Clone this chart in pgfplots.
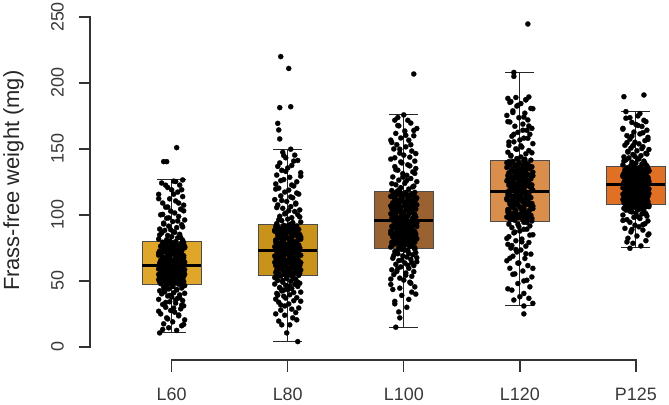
\documentclass[border=0pt]{standalone}
\usepackage{fontspec}
\setmainfont{Liberation Sans}
\usepackage{pgfplots}
\usepackage{pgfplotstable}
\pgfplotsset{compat=1.18}

\definecolor{axisgray}{HTML}{3C3C3C}
\definecolor{cLsixty}{HTML}{DFA62A}
\definecolor{cLeighty}{HTML}{C8921B}
\definecolor{cLhundred}{HTML}{9B6231}
\definecolor{cLtwenty}{HTML}{D98F4B}
\definecolor{cPtwentyfive}{HTML}{DF7024}

% jittered individual weights: j = horizontal jitter (bp), v = weight (mg)
\pgfplotstableread[row sep=\\]{
j v\\
-12 10.6\\ 5 12.5\\ -3 14.5\\ 10 16\\ -8 17.5\\ 1 19\\ 13 20.5\\ -5 22\\ 7 23.5\\
-11 25\\ 3 26.3\\ -1 27.6\\ 9 28.8\\ -6 30\\ 12 31.1\\ -9 32.2\\ 4 33.2\\ -2 34.2\\
11 35.1\\ -13 36\\ 6 36.9\\ 0 37.8\\ -4 38.6\\ 8 39.4\\ -10 40.2\\ 2 41\\ -7 41.8\\
-12 42.5\\ 5 43.2\\ -3 43.9\\ 10 44.6\\ -8 45.2\\ 1 45.8\\ 13 46.4\\ -5 47\\ 7 47.5\\
-11 47.9\\ 3 48.2\\ -1 48.5\\ 9 48.8\\ -6 49.1\\ 12 49.4\\ -9 49.7\\ 4 50.0\\ -2 50.3\\
11 50.6\\ -13 50.9\\ 6 51.2\\ 0 51.5\\ -4 51.8\\ 8 52.1\\ -10 52.4\\ 2 52.7\\ -7 53.0\\
-12 53.3\\ 5 53.6\\ -3 53.9\\ 10 54.2\\ -8 54.5\\ 1 54.8\\ 13 55.1\\ -5 55.4\\ 7 55.7\\
-11 56.0\\ 3 56.3\\ -1 56.6\\ 9 56.9\\ -6 57.2\\ 12 57.5\\ -9 57.8\\ 4 58.1\\ -2 58.4\\
11 58.7\\ -13 59.0\\ 6 59.3\\ 0 59.6\\ -4 59.9\\ 8 60.2\\ -10 60.5\\ 2 60.8\\ -7 61.1\\
-12 61.9\\ 5 62.3\\ -3 62.7\\ 10 63.1\\ -8 63.5\\ 1 63.9\\ 13 64.3\\ -5 64.7\\ 7 65.1\\
-11 65.5\\ 3 65.9\\ -1 66.3\\ 9 66.7\\ -6 67.1\\ 12 67.5\\ -9 67.9\\ 4 68.3\\ -2 68.7\\
11 69.1\\ -13 69.5\\ 6 69.9\\ 0 70.3\\ -4 70.7\\ 8 71.1\\ -10 71.5\\ 2 71.9\\ -7 72.3\\
-12 72.7\\ 5 73.1\\ -3 73.5\\ 10 73.9\\ -8 74.3\\ 1 74.7\\ 13 75.1\\ -5 75.5\\ 7 75.9\\
-11 76.3\\ 3 76.8\\ -1 77.3\\ 9 77.8\\ -6 78.3\\ 12 78.8\\ -9 79.3\\ 4 79.8\\ -2 80.1\\
11 80.8\\ -13 81.7\\ 6 82.6\\ 0 83.5\\ -4 84.4\\ 8 85.3\\ -10 86.3\\ 2 87.3\\ -7 88.3\\
-12 89.3\\ 5 90.4\\ -3 91.5\\ 10 92.6\\ -8 93.8\\ 1 95\\ 13 96.2\\ -5 97.5\\ 7 98.8\\
-11 100.1\\ 3 101.5\\ -1 102.9\\ 9 104.4\\ -6 105.9\\ 12 107.4\\ -9 109\\ 4 110.6\\ -2 112.2\\
11 113.9\\ -13 115.6\\ 6 117.3\\ 0 119\\ -4 120.8\\ 8 122.6\\ -10 124.2\\ 2 125.6\\ 11 126.5\\
-8 140.4\\ -5 140.4\\ 5 151\\
-9 13.2\\ 12 17.0\\ -4 21.2\\ 7 24.2\\ -13 27.0\\ 2 29.4\\ 10 31.6\\ -6 33.7\\ 4 35.5\\
8 37.3\\ -2 39.0\\ 13 40.6\\ -10 42.1\\ 5 43.5\\ -7 44.9\\ 1 46.0\\ 11 46.8\\ -4 47.3\\
-5 48.1\\ 9 48.6\\ -12 49.2\\ 3 49.7\\ -1 50.2\\ 11 50.7\\ -8 51.3\\ 6 51.8\\ -3 52.3\\
-9 52.8\\ 12 53.4\\ -4 53.9\\ 7 54.4\\ -13 54.9\\ 2 55.5\\ 10 56.0\\ -6 56.5\\ 4 57.0\\
8 57.6\\ -2 58.1\\ 13 58.6\\ -10 59.1\\ 5 59.7\\ -7 60.2\\ 1 60.7\\ 11 61.2\\ -4 61.4\\
-5 62.1\\ 9 62.8\\ -12 63.5\\ 3 64.2\\ -1 64.9\\ 11 65.6\\ -8 66.3\\ 6 67.0\\ -3 67.7\\
-9 68.4\\ 12 69.1\\ -4 69.8\\ 7 70.5\\ -13 71.2\\ 2 71.9\\ 10 72.6\\ -6 73.3\\ 4 74.0\\
8 74.7\\ -2 75.4\\ 13 76.1\\ -10 76.8\\ 5 77.5\\ -7 78.2\\ 1 78.9\\ 11 79.5\\ -4 80.0\\
-5 81.2\\ 9 82.9\\ -12 84.8\\ 3 86.8\\ -1 88.8\\ 11 90.9\\ -8 93.1\\ 6 95.4\\ -3 97.8\\
-9 100.4\\ 12 103.1\\ -4 106\\ 7 109\\ -13 112.3\\ 2 115.7\\ 10 119.1\\ -6 122.5\\ 4 125.3\\
}\dataLsixty

\pgfplotstableread[row sep=\\]{
j v\\
10 4.0\\ -1 10.6\\ -6 16.7\\ 2 16.7\\ -9 19.5\\ 5 22\\ -3 24\\ 8 26\\ -7 27.8\\
11 29.5\\ -3 31\\ 1 32.5\\ -9 33.8\\ 6 35\\ -12 36.2\\ 9 37.3\\ -4 38.4\\ 2 39.5\\
-11 40.5\\ 13 41.5\\ -6 42.4\\ 0 43.3\\ 4 44.2\\ -8 45\\ 10 45.8\\ -2 46.6\\ 7 47.4\\
12 48.2\\ -5 49\\ 3 49.7\\ -10 50.4\\ 8 51.1\\ -1 51.8\\ -13 52.5\\ 5 53.1\\ -7 53.7\\
11 54.2\\ -3 54.6\\ 1 55.0\\ -9 55.4\\ 6 55.9\\ -12 56.3\\ 9 56.7\\ -4 57.1\\ 2 57.5\\
-11 57.9\\ 13 58.3\\ -6 58.7\\ 0 59.1\\ 4 59.6\\ -8 60.0\\ 10 60.4\\ -2 60.8\\ 7 61.2\\
12 61.6\\ -5 62.0\\ 3 62.4\\ -10 62.8\\ 8 63.3\\ -1 63.7\\ -13 64.1\\ 5 64.5\\ -7 64.9\\
11 65.3\\ -3 65.7\\ 1 66.1\\ -9 66.5\\ 6 67.0\\ -12 67.4\\ 9 67.8\\ -4 68.2\\ 2 68.6\\
-11 69.0\\ 13 69.4\\ -6 69.8\\ 0 70.2\\ 4 70.7\\ -8 71.1\\ 10 71.5\\ -2 71.9\\ 7 72.6\\
12 73.3\\ -5 73.7\\ 3 74.2\\ -10 74.6\\ 8 75.0\\ -1 75.5\\ -13 75.9\\ 5 76.4\\ -7 76.8\\
11 77.2\\ -3 77.7\\ 1 78.1\\ -9 78.5\\ 6 79.0\\ -12 79.4\\ 9 79.9\\ -4 80.3\\ 2 80.7\\
-11 81.2\\ 13 81.6\\ -6 82.0\\ 0 82.5\\ 4 82.9\\ -8 83.4\\ 10 83.8\\ -2 84.2\\ 7 84.7\\
12 85.1\\ -5 85.5\\ 3 86.0\\ -10 86.4\\ 8 86.9\\ -1 87.3\\ -13 87.7\\ 5 88.2\\ -7 88.6\\
11 89.0\\ -3 89.5\\ 1 89.9\\ -9 90.4\\ 6 90.8\\ -12 91.2\\ 9 91.7\\ -4 92.1\\ 2 92.7\\
-11 93.5\\ 13 94.6\\ -6 95.7\\ 0 96.8\\ 4 97.9\\ -8 99\\ 10 100.2\\ -2 101.4\\ 7 102.6\\
12 103.8\\ -5 105\\ 3 106.3\\ -10 107.6\\ 8 108.9\\ -1 110.2\\ -13 111.6\\ 5 113\\ -7 114.4\\
11 115.8\\ -3 117.3\\ 1 118.8\\ -9 120.3\\ 6 121.9\\ -12 123.5\\ 9 125.1\\ -4 126.8\\ 2 128.5\\
-11 130.2\\ 13 132\\ -6 133.8\\ 0 135.6\\ 4 137.5\\ -8 139.4\\ 10 141.3\\ -2 143.3\\ 7 145.3\\
-5 147.5\\ 3 149.8\\
-8 157.6\\ -9 164.4\\ -10 169.4\\ -8 181.3\\ 3 182\\ 1 211\\ -7 220\\
9 20.5\\ -12 25\\ 4 28.6\\ -7 31.8\\ 13 34.6\\ -2 37\\ -10 39.2\\ 6 41.2\\ -4 43\\
-8 44.7\\ 2 46.2\\ -13 47.6\\ 10 49\\ -5 50.3\\ 7 51.5\\ -1 52.5\\ -11 53.3\\ 4 53.9\\
5 54.4\\ -9 55.1\\ 12 55.8\\ -3 56.5\\ 1 57.3\\ -11 58.0\\ 8 58.7\\ -6 59.4\\ 3 60.2\\
9 60.9\\ -12 61.6\\ 4 62.3\\ -7 63.1\\ 13 63.8\\ -2 64.5\\ -10 65.2\\ 6 66.0\\ -4 66.7\\
-8 67.4\\ 2 68.1\\ -13 68.9\\ 10 69.6\\ -5 70.3\\ 7 71.0\\ -1 71.8\\ -11 72.5\\ 4 72.9\\
5 73.5\\ -9 74.2\\ 12 75.0\\ -3 75.7\\ 1 76.5\\ -11 77.2\\ 8 78.0\\ -6 78.7\\ 3 79.5\\
9 80.2\\ -12 81.0\\ 4 81.7\\ -7 82.5\\ 13 83.2\\ -2 84.0\\ -10 84.7\\ 6 85.5\\ -4 86.2\\
-8 87.0\\ 2 87.7\\ -13 88.5\\ 10 89.2\\ -5 90.0\\ 7 90.7\\ -1 91.5\\ -11 92.2\\ 4 92.9\\
5 94.2\\ -9 96.3\\ 12 98.5\\ -3 100.8\\ 1 103.2\\ -11 105.6\\ 8 108.2\\ -6 110.9\\ 3 113.7\\
9 116.6\\ -12 119.6\\ 4 122.7\\ -7 126\\ 13 129.4\\ -2 133\\ -10 136.8\\ 6 140.8\\ -4 145\\
}\dataLeighty

\pgfplotstableread[row sep=\\]{
j v\\
-8 14.9\\ -4 22\\ -5 26.5\\ 3 30\\ -9 32.6\\ 5 36\\ -2 39\\ 8 41.5\\ -11 43.5\\
11 45.5\\ -13 47.3\\ 6 49\\ 0 50.6\\ -4 52.1\\ 8 53.5\\ -10 54.8\\ 2 56\\ -7 57.2\\
-12 58.4\\ 5 59.5\\ -3 60.6\\ 10 61.6\\ -8 62.6\\ 1 63.6\\ 13 64.5\\ -5 65.4\\ 7 66.3\\
-11 67.2\\ 3 68.1\\ -1 69\\ 9 69.8\\ -6 70.6\\ 12 71.4\\ -9 72.2\\ 4 73\\ -2 73.9\\
11 75.1\\ -13 75.6\\ 6 76.0\\ 0 76.5\\ -4 76.9\\ 8 77.4\\ -10 77.8\\ 2 78.3\\ -7 78.7\\
-12 79.2\\ 5 79.6\\ -3 80.1\\ 10 80.5\\ -8 81.0\\ 1 81.4\\ 13 81.9\\ -5 82.3\\ 7 82.8\\
-11 83.2\\ 3 83.7\\ -1 84.1\\ 9 84.6\\ -6 85.0\\ 12 85.5\\ -9 85.9\\ 4 86.4\\ -2 86.8\\
11 87.3\\ -13 87.7\\ 6 88.2\\ 0 88.6\\ -4 89.1\\ 8 89.5\\ -10 90.0\\ 2 90.4\\ -7 90.9\\
-12 91.3\\ 5 91.8\\ -3 92.2\\ 10 92.7\\ -8 93.1\\ 1 93.6\\ 13 94.0\\ -5 94.5\\ 7 95.0\\
-11 96.0\\ 3 96.5\\ -1 97.0\\ 9 97.5\\ -6 98.0\\ 12 98.4\\ -9 98.9\\ 4 99.4\\ -2 99.9\\
11 100.4\\ -13 100.9\\ 6 101.4\\ 0 101.9\\ -4 102.4\\ 8 102.8\\ -10 103.3\\ 2 103.8\\ -7 104.3\\
-12 104.8\\ 5 105.3\\ -3 105.8\\ 10 106.3\\ -8 106.8\\ 1 107.2\\ 13 107.7\\ -5 108.2\\ 7 108.7\\
-11 109.2\\ 3 109.7\\ -1 110.2\\ 9 110.7\\ -6 111.2\\ 12 111.6\\ -9 112.1\\ 4 112.6\\ -2 113.1\\
11 113.6\\ -13 114.1\\ 6 114.6\\ 0 115.1\\ -4 115.6\\ 8 116.0\\ -10 116.5\\ 2 117.0\\ -7 117.6\\
-12 118.5\\ 5 119.6\\ -3 120.7\\ 10 121.8\\ -8 122.9\\ 1 124\\ 13 125.2\\ -5 126.4\\ 7 127.6\\
-11 128.8\\ 3 130\\ -1 131.3\\ 9 132.6\\ -6 133.9\\ 12 135.2\\ -9 136.6\\ 4 138\\ -2 139.4\\
11 140.8\\ -13 142.3\\ 6 143.8\\ 0 145.3\\ -4 146.8\\ 8 148.4\\ -10 150\\ 2 151.6\\ -7 153.2\\
-12 154.9\\ 5 156.6\\ -3 158.3\\ 10 160\\ -8 161.8\\ 1 163.6\\ 13 165.5\\ -5 167.5\\ 7 169.6\\
-9 171.8\\ -6 173.8\\ 0 175.8\\
10 206.8\\
-9 34.5\\ 12 40\\ -4 44.5\\ 7 48.2\\ -13 51.4\\ 2 54.3\\ 10 57\\ -6 59.5\\ 4 61.8\\
8 63.9\\ -2 65.8\\ 13 67.6\\ -10 69.3\\ 5 70.8\\ -7 72.2\\ 1 73.3\\ 11 74.0\\ -4 74.4\\
-5 75.3\\ 9 76.1\\ -12 76.9\\ 3 77.7\\ -1 78.5\\ 11 79.3\\ -8 80.1\\ 6 80.9\\ -3 81.7\\
-9 82.5\\ 12 83.3\\ -4 84.1\\ 7 84.9\\ -13 85.7\\ 2 86.5\\ 10 87.3\\ -6 88.1\\ 4 88.9\\
8 89.7\\ -2 90.5\\ 13 91.3\\ -10 92.1\\ 5 92.9\\ -7 93.7\\ 1 94.5\\ 11 95.1\\ -4 95.3\\
-5 95.9\\ 9 96.7\\ -12 97.6\\ 3 98.4\\ -1 99.3\\ 11 100.1\\ -8 101.0\\ 6 101.8\\ -3 102.7\\
-9 103.5\\ 12 104.4\\ -4 105.2\\ 7 106.1\\ -13 106.9\\ 2 107.8\\ 10 108.6\\ -6 109.5\\ 4 110.3\\
8 111.2\\ -2 112.0\\ 13 112.9\\ -10 113.7\\ 5 114.6\\ -7 115.4\\ 1 116.3\\ 11 117.1\\ -4 117.8\\
-5 119\\ 9 121.3\\ -12 123.7\\ 3 126.2\\ -1 128.8\\ 11 131.5\\ -8 134.3\\ 6 137.2\\ -3 140.2\\
-9 143.3\\ 12 146.5\\ -4 149.8\\ 7 153.2\\ -13 156.7\\ 2 160.3\\ 10 164\\ -6 167.8\\ 4 171.7\\
}\dataLhundred

\pgfplotstableread[row sep=\\]{
j v\\
4 31\\ 13 33\\ -6 35.5\\ 0 38\\ 4 40.5\\ -8 43\\ 10 45.5\\ -2 48\\ 7 50.5\\
12 53\\ -5 55.3\\ 3 57.5\\ -10 59.6\\ 8 61.6\\ -1 63.5\\ -13 65.3\\ 5 67\\ -7 68.7\\
11 70.3\\ -3 71.9\\ 1 73.4\\ -9 74.9\\ 6 76.3\\ -12 77.7\\ 9 79.1\\ -4 80.4\\ 2 81.7\\
-11 83.5\\ 13 85\\ -6 86.4\\ 0 87.8\\ 4 89.1\\ -8 90.4\\ 10 91.7\\ -2 93\\ 7 94.3\\
12 95.4\\ -5 95.9\\ 3 96.4\\ -10 96.9\\ 8 97.4\\ -1 97.9\\ -13 98.4\\ 5 98.9\\ -7 99.4\\
11 99.8\\ -3 100.3\\ 1 100.8\\ -9 101.3\\ 6 101.8\\ -12 102.3\\ 9 102.8\\ -4 103.3\\ 2 103.8\\
-11 104.3\\ 13 104.8\\ -6 105.3\\ 0 105.8\\ 4 106.3\\ -8 106.7\\ 10 107.2\\ -2 107.7\\ 7 108.2\\
12 108.7\\ -5 109.2\\ 3 109.7\\ -10 110.2\\ 8 110.7\\ -1 111.2\\ -13 111.6\\ 5 112.1\\ -7 112.6\\
11 113.1\\ -3 113.6\\ 1 114.1\\ -9 114.6\\ 6 115.1\\ -12 115.6\\ 9 116.1\\ -4 116.6\\ 2 117.1\\
-11 118.2\\ 13 118.7\\ -6 119.2\\ 0 119.7\\ 4 120.2\\ -8 120.7\\ 10 121.2\\ -2 121.8\\ 7 122.3\\
12 122.8\\ -5 123.3\\ 3 123.8\\ -10 124.3\\ 8 124.8\\ -1 125.3\\ -13 125.8\\ 5 126.3\\ -7 126.8\\
11 127.3\\ -3 127.8\\ 1 128.4\\ -9 128.9\\ 6 129.4\\ -12 129.9\\ 9 130.4\\ -4 130.9\\ 2 131.4\\
-11 131.9\\ 13 132.4\\ -6 132.9\\ 0 133.4\\ 4 133.9\\ -8 134.4\\ 10 135.0\\ -2 135.5\\ 7 136.0\\
12 136.5\\ -5 137.0\\ 3 137.5\\ -10 138.0\\ 8 138.5\\ -1 139.0\\ -13 139.6\\ 5 140.1\\ -7 140.6\\
11 141.5\\ -3 142.7\\ 1 143.9\\ -9 145.1\\ 6 146.3\\ -12 147.5\\ 9 148.8\\ -4 150.1\\ 2 151.4\\
-11 152.7\\ 13 154\\ -6 155.4\\ 0 156.8\\ 4 158.2\\ -8 159.6\\ 10 161.1\\ -2 162.6\\ 7 164.1\\
12 165.6\\ -5 167.2\\ 3 168.8\\ -10 170.4\\ 8 172\\ -1 173.7\\ -13 175.4\\ 5 177.1\\ -7 178.9\\
11 180.7\\ -3 182.5\\ 1 184.4\\ -9 185.9\\ 6 187.2\\ -12 188.3\\ 9 189.4\\ -6 205\\ -6 208\\
4 25\\ 8 244.7\\
9 36.8\\ -12 44\\ 4 50\\ -7 55\\ 13 59.5\\ -2 63.5\\ -10 67.2\\ 6 70.6\\ -4 73.8\\
-8 76.8\\ 2 79.6\\ -13 82.2\\ 10 84.7\\ -5 87\\ 7 89.2\\ -1 91.2\\ -11 93\\ 4 94.4\\
5 95.6\\ -9 96.4\\ 12 97.3\\ -3 98.1\\ 1 99.0\\ -11 99.8\\ 8 100.7\\ -6 101.5\\ 3 102.4\\
9 103.2\\ -12 104.1\\ 4 104.9\\ -7 105.8\\ 13 106.6\\ -2 107.5\\ -10 108.3\\ 6 109.2\\ -4 110.0\\
-8 110.9\\ 2 111.7\\ -13 112.6\\ 10 113.4\\ -5 114.3\\ 7 115.1\\ -1 116.0\\ -11 116.8\\ 4 117.3\\
5 118.0\\ -9 118.9\\ 12 119.8\\ -3 120.7\\ 1 121.6\\ -11 122.5\\ 8 123.4\\ -6 124.3\\ 3 125.2\\
9 126.1\\ -12 127.0\\ 4 127.9\\ -7 128.8\\ 13 129.7\\ -2 130.6\\ -10 131.5\\ 6 132.4\\ -4 133.3\\
-8 134.2\\ 2 135.1\\ -13 136.0\\ 10 136.9\\ -5 137.8\\ 7 138.7\\ -1 139.6\\ -11 140.4\\ 4 140.9\\
5 142.2\\ -9 144.6\\ 12 147.1\\ -3 149.7\\ 1 152.4\\ -11 155.2\\ 8 158.1\\ -6 161.1\\ 3 164.2\\
9 167.4\\ -12 170.7\\ 4 174.1\\ -7 177.6\\ 13 180.5\\ -2 183\\ -10 185.3\\ 6 187.3\\ -4 189\\
}\dataLtwenty

\pgfplotstableread[row sep=\\]{
j v\\
-6 74.7\\ 5 76.5\\ -3 78.5\\ 10 80.5\\ -8 82.3\\ 1 84\\ 13 85.6\\ -5 87.1\\ 7 88.5\\
-11 89.8\\ 3 91\\ -1 92.2\\ 9 93.3\\ -6 94.4\\ 12 95.4\\ -9 96.4\\ 4 97.3\\ -2 98.2\\
11 99.1\\ -13 99.9\\ 6 100.7\\ 0 101.5\\ -4 102.2\\ 8 102.9\\ -10 103.6\\ 2 104.2\\ -7 104.8\\
-12 105\\ 5 105.4\\ -3 105.8\\ 10 106.2\\ -8 106.6\\ 1 107\\ 13 107.3\\ -5 107.6\\ 7 107.9\\
-11 108.4\\ 3 108.7\\ -1 109.0\\ 9 109.4\\ -6 109.7\\ 12 110.0\\ -9 110.4\\ 4 110.7\\ -2 111.0\\
11 111.3\\ -13 111.7\\ 6 112.0\\ 0 112.3\\ -4 112.7\\ 8 113.0\\ -10 113.3\\ 2 113.6\\ -7 114.0\\
-12 114.3\\ 5 114.6\\ -3 115.0\\ 10 115.3\\ -8 115.6\\ 1 115.9\\ 13 116.3\\ -5 116.6\\ 7 116.9\\
-11 117.3\\ 3 117.6\\ -1 117.9\\ 9 118.2\\ -6 118.6\\ 12 118.9\\ -9 119.2\\ 4 119.6\\ -2 119.9\\
11 120.2\\ -13 120.5\\ 6 120.9\\ 0 121.2\\ -4 121.5\\ 8 121.9\\ -10 122.2\\ 2 122.5\\ -7 122.9\\
-12 123.6\\ 5 123.9\\ -3 124.2\\ 10 124.5\\ -8 124.8\\ 1 125.1\\ 13 125.4\\ -5 125.7\\ 7 126.0\\
-11 126.3\\ 3 126.5\\ -1 126.8\\ 9 127.1\\ -6 127.4\\ 12 127.7\\ -9 128.0\\ 4 128.3\\ -2 128.6\\
11 128.9\\ -13 129.2\\ 6 129.5\\ 0 129.7\\ -4 130.0\\ 8 130.3\\ -10 130.6\\ 2 130.9\\ -7 131.2\\
-12 131.5\\ 5 131.8\\ -3 132.1\\ 10 132.4\\ -8 132.6\\ 1 132.9\\ 13 133.2\\ -5 133.5\\ 7 133.8\\
-11 134.1\\ 3 134.4\\ -1 134.7\\ 9 135.0\\ -6 135.3\\ 12 135.5\\ -9 135.8\\ 4 136.1\\ -2 136.4\\
11 137.2\\ -13 137.9\\ 6 138.6\\ 0 139.3\\ -4 140\\ 8 140.8\\ -10 141.6\\ 2 142.4\\ -7 143.2\\
-12 144\\ 5 144.9\\ -3 145.8\\ 10 146.7\\ -8 147.6\\ 1 148.6\\ 13 149.6\\ -5 150.6\\ 7 151.7\\
-11 152.8\\ 3 153.9\\ -1 155.1\\ 9 156.3\\ -6 157.5\\ 12 158.8\\ -9 160.1\\ 4 161.4\\ -2 162.8\\
11 164.2\\ -13 165.6\\ 6 167.1\\ 0 168.6\\ -4 170.1\\ 8 171.7\\ -10 173.3\\ 2 175\\ -10 178.3\\
-12 189.6\\ 8 190.9\\
-9 79.5\\ 12 84.8\\ -4 89\\ 7 92.6\\ -13 95.8\\ 2 98.6\\ 10 100.9\\ -6 102.8\\ 4 104.4\\
8 105.5\\ -2 105.9\\ 13 106.3\\ -10 106.7\\ 5 107.0\\ -7 107.3\\ 1 107.6\\ 11 107.8\\ -4 108.0\\
-5 108.3\\ 9 108.9\\ -12 109.5\\ 3 110.0\\ -1 110.6\\ 11 111.2\\ -8 111.7\\ 6 112.3\\ -3 112.9\\
-9 113.4\\ 12 114.0\\ -4 114.6\\ 7 115.1\\ -13 115.7\\ 2 116.3\\ 10 116.8\\ -6 117.4\\ 4 118.0\\
8 118.5\\ -2 119.1\\ 13 119.7\\ -10 120.2\\ 5 120.8\\ -7 121.4\\ 1 121.9\\ 11 122.5\\ -4 123.0\\
-5 123.5\\ 9 124.0\\ -12 124.5\\ 3 125.0\\ -1 125.5\\ 11 126.0\\ -8 126.5\\ 6 127.0\\ -3 127.5\\
-9 128.0\\ 12 128.5\\ -4 129.0\\ 7 129.5\\ -13 130.0\\ 2 130.5\\ 10 131.0\\ -6 131.5\\ 4 132.0\\
8 132.5\\ -2 133.0\\ 13 133.5\\ -10 134.0\\ 5 134.5\\ -7 135.0\\ 1 135.5\\ 11 136.0\\ -4 136.5\\
-5 137.5\\ 9 139.1\\ -12 140.8\\ 3 142.5\\ -1 144.3\\ 11 146.2\\ -8 148.2\\ 6 150.3\\ -3 152.5\\
-9 154.8\\ 12 157.2\\ -4 159.7\\ 7 162.3\\ -13 165\\ 2 167.8\\ 10 170.7\\ -6 173.7\\ 4 176.8\\
}\dataPtwentyfive

\pgfplotsset{
  whisk/.style={draw=black!85, line width=1bp, mark=none, unbounded coords=jump},
  boxfill/.style={draw=black!70, line width=0.8bp, mark=none, fill=#1},
  med/.style={draw=black, line width=3bp, mark=none},
  pts/.style={only marks, mark=*, mark size=2.6bp, mark options={draw=black, fill=black, line width=0.2bp}},
  rline/.style={draw=black!80, line width=1.4bp, mark=none, line cap=rect, unbounded coords=jump},
}
\tikzset{
  rtick/.style={inner sep=0pt, font=\fontsize{18}{20}\selectfont, text=black!78},
}

\begin{document}
\begin{tikzpicture}
\begin{axis}[
  scale only axis, enlargelimits=false, clip=false,
  width=464.4bp, height=330bp,
  xmin=0, xmax=4, ymin=0, ymax=250,
  axis lines=none,
]
% page frame
\path (axis cs:-1.4772,-43.94) rectangle (axis cs:4.2851,262.88);

% detached value axis with outward ticks
\addplot[rline] coordinates {(-0.702,0) (-0.702,250)
  (-0.702,nan) (-0.702,0) (-0.7967,0)
  (-0.702,nan) (-0.702,50) (-0.7967,50)
  (-0.702,nan) (-0.702,100) (-0.7967,100)
  (-0.702,nan) (-0.702,150) (-0.7967,150)
  (-0.702,nan) (-0.702,200) (-0.7967,200)
  (-0.702,nan) (-0.702,250) (-0.7967,250)};
\node[rtick, rotate=90, anchor=base] at (axis cs:-0.9302,0) {0};
\node[rtick, rotate=90, anchor=base] at (axis cs:-0.9302,50) {50};
\node[rtick, rotate=90, anchor=base] at (axis cs:-0.9302,100) {100};
\node[rtick, rotate=90, anchor=base] at (axis cs:-0.9302,150) {150};
\node[rtick, rotate=90, anchor=base] at (axis cs:-0.9302,200) {200};
\node[rtick, rotate=90, anchor=base] at (axis cs:-0.9302,250) {250};

% detached category axis with outward ticks
\addplot[rline] coordinates {(0,-9.85) (4,-9.85)
  (0,nan) (0,-9.85) (0,-18.18)
  (1,nan) (1,-9.85) (1,-18.18)
  (2,nan) (2,-9.85) (2,-18.18)
  (3,nan) (3,-9.85) (3,-18.18)
  (4,nan) (4,-9.85) (4,-18.18)};
\node[rtick, anchor=base] at (axis cs:0,-40.9) {L60};
\node[rtick, anchor=base] at (axis cs:1,-40.9) {L80};
\node[rtick, anchor=base] at (axis cs:2,-40.9) {L100};
\node[rtick, anchor=base] at (axis cs:3,-40.9) {L120};
\node[rtick, anchor=base] at (axis cs:4,-40.9) {P125};

\node[rotate=90, font=\fontsize{22}{24}\selectfont, text=black!85] at (axis cs:-1.3626,125.9) {Frass-free weight (mg)};

% whiskers and caps
\addplot[whisk] coordinates {(0,80.3) (0,126.5) (0,nan) (-0.125,126.5) (0.125,126.5) (0,nan) (0,47.7) (0,10.6) (0,nan) (-0.125,10.6) (0.125,10.6)};
\addplot[whisk] coordinates {(1,93.1) (1,149.8) (1,nan) (0.875,149.8) (1.125,149.8) (1,nan) (1,54.0) (1,4.0) (1,nan) (0.875,4.0) (1.125,4.0)};
\addplot[whisk] coordinates {(2,118.0) (2,175.8) (2,nan) (1.875,175.8) (2.125,175.8) (2,nan) (2,74.7) (2,14.9) (2,nan) (1.875,14.9) (2.125,14.9)};
\addplot[whisk] coordinates {(3,141.0) (3,208.0) (3,nan) (2.875,208.0) (3.125,208.0) (3,nan) (3,95.0) (3,31.0) (3,nan) (2.875,31.0) (3.125,31.0)};
\addplot[whisk] coordinates {(4,136.6) (4,178.3) (4,nan) (3.875,178.3) (4.125,178.3) (4,nan) (4,108.1) (4,75.2) (4,nan) (3.875,75.2) (4.125,75.2)};

% interquartile boxes
\addplot[boxfill=cLsixty] coordinates {(-0.254,47.7) (0.254,47.7) (0.254,80.3) (-0.254,80.3)} -- cycle;
\addplot[boxfill=cLeighty] coordinates {(0.746,54.0) (1.254,54.0) (1.254,93.1) (0.746,93.1)} -- cycle;
\addplot[boxfill=cLhundred] coordinates {(1.746,74.7) (2.254,74.7) (2.254,118.0) (1.746,118.0)} -- cycle;
\addplot[boxfill=cLtwenty] coordinates {(2.746,95.0) (3.254,95.0) (3.254,141.0) (2.746,141.0)} -- cycle;
\addplot[boxfill=cPtwentyfive] coordinates {(3.746,108.1) (4.254,108.1) (4.254,136.6) (3.746,136.6)} -- cycle;

% medians
\addplot[med] coordinates {(-0.254,61.6) (0.254,61.6)};
\addplot[med] coordinates {(0.746,73.0) (1.254,73.0)};
\addplot[med] coordinates {(1.746,95.5) (2.254,95.5)};
\addplot[med] coordinates {(2.746,117.5) (3.254,117.5)};
\addplot[med] coordinates {(3.746,123.3) (4.254,123.3)};

% individual larvae
\addplot[pts] table[x expr=\thisrow{j}/116.1, y=v] {\dataLsixty};
\addplot[pts] table[x expr=\thisrow{j}/116.1+1, y=v] {\dataLeighty};
\addplot[pts] table[x expr=\thisrow{j}/116.1+2, y=v] {\dataLhundred};
\addplot[pts] table[x expr=\thisrow{j}/116.1+3, y=v] {\dataLtwenty};
\addplot[pts] table[x expr=\thisrow{j}/116.1+4, y=v] {\dataPtwentyfive};
\end{axis}
\end{tikzpicture}
\end{document}
